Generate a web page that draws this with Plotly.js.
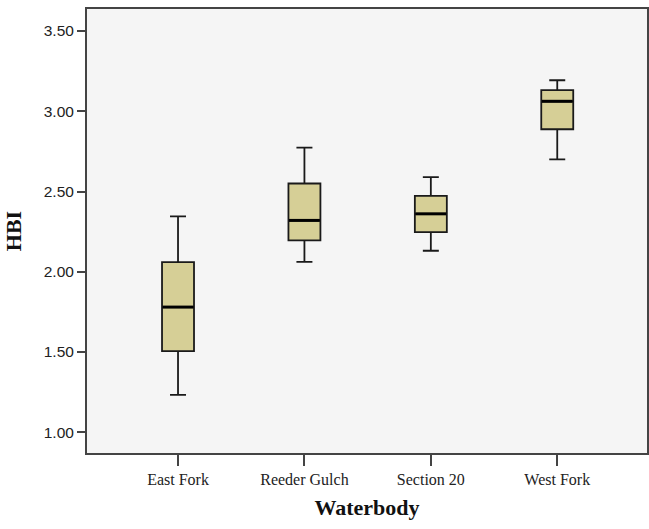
<!DOCTYPE html>
<html>
<head>
<meta charset="utf-8">
<script src="https://cdn.plot.ly/plotly-3.0.1.min.js"></script>
<style>html,body{margin:0;padding:0;background:#fff;}#chart{width:649px;height:529px;}</style>
</head>
<body>
<div id="chart"></div>
<script>
var categories = ["East Fork", "Reeder Gulch", "Section 20", "West Fork"];
var lowerWhisker = [1.233, 2.062, 2.131, 2.70];
var q1 = [1.506, 2.195, 2.247, 2.888];
var median = [1.78, 2.32, 2.361, 3.062];
var q3 = [2.06, 2.55, 2.473, 3.131];
var upperWhisker = [2.345, 2.774, 2.59, 3.193];
var yTickVals = [1.0, 1.5, 2.0, 2.5, 3.0, 3.5];
var yTickText = ["1.00", "1.50", "2.00", "2.50", "3.00", "3.50"];

var boxTrace = {
  type: 'box',
  x: categories,
  q1: q1,
  median: median,
  q3: q3,
  lowerfence: lowerWhisker,
  upperfence: upperWhisker,
  width: 0.253,
  whiskerwidth: 0.5,
  fillcolor: '#d6cf96',
  line: {color: '#1a1a1a', width: 1.8},
  boxpoints: false,
  hoverinfo: 'skip',
  showlegend: false
};

var medianTrace = {
  type: 'scatter',
  mode: 'markers',
  x: categories,
  y: median,
  marker: {symbol: 'line-ew', size: 22, line: {color: '#000', width: 3}},
  hoverinfo: 'skip',
  showlegend: false
};

var layout = {
  width: 649,
  height: 529,
  margin: {l: 87, r: 2, t: 9, b: 76},
  paper_bgcolor: '#ffffff',
  plot_bgcolor: '#f5f5f5',
  showlegend: false,
  xaxis: {
    type: 'category',
    categoryorder: 'array',
    categoryarray: categories,
    range: [-0.72, 3.71],
    showline: true,
    linecolor: '#444',
    linewidth: 2,
    mirror: true,
    showgrid: false,
    zeroline: false,
    ticks: 'outside',
    ticklen: 11,
    tickwidth: 2,
    tickcolor: '#444',
    tickfont: {family: 'Liberation Serif, DejaVu Serif, serif', size: 16, color: '#222'},
    title: {text: '<b>Waterbody</b>', font: {family: 'Liberation Serif, DejaVu Serif, serif', size: 22, color: '#111'}, standoff: 12}
  },
  yaxis: {
    range: [0.871, 3.637],
    tickvals: yTickVals,
    ticktext: yTickText,
    showline: true,
    linecolor: '#444',
    linewidth: 2,
    mirror: true,
    showgrid: false,
    zeroline: false,
    ticks: 'outside',
    ticklen: 8,
    tickwidth: 2,
    tickcolor: '#444',
    tickfont: {family: 'Liberation Sans, Arial, sans-serif', size: 15.5, color: '#222'},
    title: {text: '<b>HBI</b>', font: {family: 'Liberation Serif, DejaVu Serif, serif', size: 22, color: '#111'}, standoff: 16}
  }
};

Plotly.newPlot('chart', [boxTrace, medianTrace], layout, {displayModeBar: false, staticPlot: true});
</script>
</body>
</html>
